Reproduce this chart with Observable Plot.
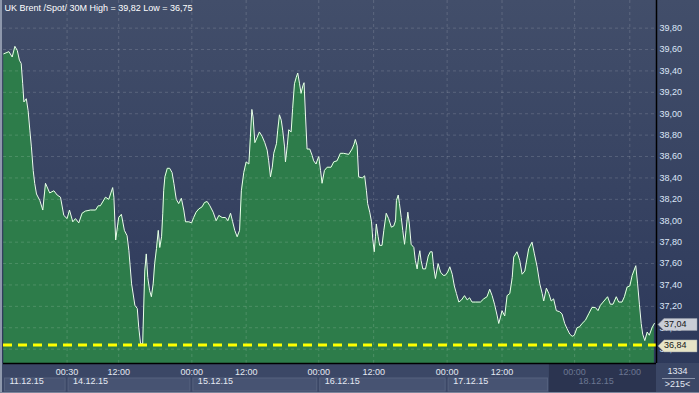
<!DOCTYPE html>
<html><head><meta charset="utf-8">
<script src="https://cdn.jsdelivr.net/npm/d3@7"></script>
<script src="https://cdn.jsdelivr.net/npm/@observablehq/plot@0.6"></script>
<style>
html,body{margin:0;padding:0;background:#2c3757;}
#chart{width:699px;height:393px;position:relative;overflow:hidden;}
</style></head><body><div id="chart"></div>
<script>
const title = "UK Brent /Spot/ 30M High = 39,82 Low = 36,75";
// position along the time axis in 30-minute bars
const bars = [0.1,1.8,2.9,3.8,4.6,5.3,5.9,6.4,6.8,7.6,8.2,8.8,9.3,9.9,10.4,11,12.1,13.1,14,15.4,16.8,17.9,19,20.1,21.2,22,23.1,24,25.1,26.2,27.3,29,30.7,31.6,32.3,34,35.1,36.4,36.8,37.4,38.4,39.3,40.3,41.2,41.8,42.7,43.8,
44.6,45.1,45.7,46.4,46.8,47.1,47.6,48.1,48.7,49.3,49.9,50.4,51,51.6,52.1,52.7,53.1,53.4,53.8,54.6,55.4,56.2,56.8,57.6,58.4,59.3,60.1,60.7,61.8,62.7,63.4,64.2,65.1,66.2,67,67.9,68.8,69.9,70.9,71.8,72.9,74,74.8,75.7,76.4,77.1,77.9,78.7,79.3,80.1,80.9,81.8,82.3,82.8,83.2,83.8,84.6,85.3,86.2,87.1,
87.9,88.4,89,89.6,90.1,91,91.4,92,92.6,93.1,93.7,94,94.6,95.1,95.9,96.4,97,97.6,98.1,98.7,99.2,99.8,100.2,100.7,101.2,102.1,102.9,103.4,104.2,104.8,105.1,105.7,106.2,107,107.9,109.2,110.1,111.2,112.3,113.4,115.1,116.2,116.8,117.3,117.9,118.4,119.6,120.4,121,121.4,122.1,122.7,123.1,123.6,124,124.3,124.9,125.4,126.2,126.8,127.6,128.4,129.3,130.1,130.7,
131,131.6,132,132.6,133.1,133.7,134.2,134.8,135.3,135.9,136.8,137.3,137.9,138.4,138.8,139.2,139.8,140.7,141.6,142.3,142.9,143.4,144,144.9,145.7,146.6,147.3,148.1,148.8,149.6,150.3,151,151.8,152.7,153.7,154.6,155.4,156.2,157.3,159,160.1,161.2,162.1,162.9,163.7,164.6,165.1,165.7,166.2,167.1,167.9,168.8,169.6,170.1,171.2,172.1,172.9,173.8,
175.1,176.2,177,177.9,178.8,179.6,180.1,181,181.8,182.6,183.4,184.3,185.4,186.2,187.1,187.9,188.8,189.6,190.3,191.2,192.1,192.9,194,195.1,196.2,197.3,198.2,199,199.9,201.4,202.3,203.2,204.3,205.1,206.2,207,207.9,208.8,209.6,210.8,211.4,212,212.6,213.1,213.8,214.6,215.3,216.2,217];
const prices = [39.56,39.58,39.53,39.63,39.59,39.50,39.47,39.28,39.11,39.14,39.03,38.84,38.69,38.47,38.35,38.25,38.19,38.10,38.35,38.26,38.28,38.24,38.22,38.05,38.02,38.10,37.99,38.02,37.98,38.07,38.09,38.10,38.10,38.14,38.14,38.22,38.20,38.31,38.22,37.82,38.03,38.06,37.91,37.86,37.72,37.41,37.21,
37.18,37.00,36.85,36.85,37.25,37.53,37.69,37.47,37.35,37.29,37.41,37.60,37.74,37.91,37.75,37.85,38.07,38.28,38.41,38.49,38.49,38.45,38.35,38.20,38.16,38.21,38.10,37.99,37.99,37.98,38.03,38.08,38.11,38.13,38.17,38.18,38.14,38.08,38.00,38.05,38.03,38.03,38.00,38.07,37.99,37.91,37.85,37.91,38.28,38.45,38.55,38.53,38.78,39.04,38.97,38.73,38.78,38.83,38.79,38.73,
38.66,38.56,38.41,38.50,38.63,38.72,38.84,38.99,38.94,38.84,38.69,38.55,38.70,38.85,38.83,39.05,39.28,39.34,39.38,39.28,39.19,39.26,39.29,38.97,38.67,38.67,38.61,38.56,38.53,38.58,38.60,38.47,38.35,38.47,38.50,38.50,38.55,38.56,38.63,38.63,38.62,38.67,38.71,38.76,38.70,38.41,38.40,38.42,38.28,38.16,38.08,37.99,37.83,37.71,37.85,37.97,37.85,37.77,37.77,37.91,38.07,38.02,37.94,37.95,38.00,
38.19,38.24,38.16,38.03,37.91,37.78,37.91,38.08,37.97,37.78,37.75,37.63,37.55,37.66,37.72,37.63,37.55,37.55,37.67,37.71,37.71,37.57,37.46,37.60,37.52,37.49,37.49,37.52,37.57,37.50,37.39,37.32,37.24,37.26,37.30,37.26,37.28,37.24,37.24,37.24,37.27,37.29,37.36,37.30,37.22,37.11,37.04,37.10,37.16,37.11,37.30,37.32,37.47,37.66,37.71,37.63,37.50,37.53,
37.74,37.80,37.69,37.57,37.41,37.32,37.25,37.37,37.32,37.25,37.27,37.16,37.15,37.13,37.04,36.99,36.94,36.92,36.93,37.00,37.01,37.04,37.07,37.13,37.19,37.19,37.16,37.21,37.24,37.29,37.22,37.22,37.29,37.24,37.24,37.29,37.38,37.39,37.49,37.58,37.41,37.22,37.04,36.94,36.88,36.96,36.93,37.00,37.04];
const yTicks = [36.8,37.0,37.2,37.4,37.6,37.8,38.0,38.2,38.4,38.6,38.8,39.0,39.2,39.4,39.6,39.8];
const timeTicks = [21.2,38.4,62.8,80.9,105.1,123.4,147.9,166.2];
const timeLabels = ["00:30","12:00","00:00","12:00","00:00","12:00","00:00","12:00"];
const futureTicks = [190.4,208.8];
const futureLabels = ["00:00","12:00"];
const dateStarts = [0,21.2,62.8,105.1,147.9];
const dateLabels = ["11.12.15","14.12.15","15.12.15","16.12.15","17.12.15"];
const futureDateStart = 190.4, futureDateLabel = "18.12.15";
const futureRegionStart = 182;
const lastPrice = 37.04, lowLine = 36.84;
const counterTop = "1334", counterBottom = ">215<";
const yMin = 36.666, yMax = 40.058, xMax = 217.7;

const data = bars.map((b, i) => ({bar: b, price: prices[i]}));
const fmt = d => d.toFixed(2).replace(".", ",");
const tLab = new Map(timeTicks.map((t, i) => [t, timeLabels[i]]));
const fLab = new Map(futureTicks.map((t, i) => [t, futureLabels[i]]));
const dates = dateLabels.map((label, i) => ({label, start: dateStarts[i]}));
const FONT = "'Liberation Sans', Arial, sans-serif";

const plot = Plot.plot({
  width: 699, height: 393,
  marginLeft: 3, marginRight: 43, marginTop: 0, marginBottom: 30,
  style: {background: "linear-gradient(#424e6a, #2b3759)", fontFamily: FONT, fontSize: "9px", overflow: "visible"},
  x: {domain: [0, xMax]},
  y: {domain: [yMin, yMax]},
  marks: [
    Plot.areaY(data, {x: "bar", y1: yMin, y2: "price", fill: "#2d7c4a"}),
    Plot.gridY(yTicks, {stroke: "#ffffff", strokeOpacity: 0.15, strokeDasharray: "3,3"}),
    Plot.gridX(timeTicks.concat(futureTicks), {stroke: "#ffffff", strokeOpacity: 0.15, strokeDasharray: "3,3"}),
    Plot.lineY(data, {x: "bar", y: "price", stroke: "#eaffea", strokeWidth: 1}),
    Plot.ruleY([lowLine], {stroke: "#ffff00", strokeWidth: 3, strokeDasharray: "9,6"}),
    Plot.ruleY([yMin], {stroke: "#000000", strokeWidth: 1.5}),
    Plot.ruleX([xMax], {stroke: "#000000", strokeWidth: 1.5}),
    Plot.axisY(yTicks, {anchor: "right", label: null, tickSize: 0, tickPadding: 3, tickFormat: fmt, fill: "#dce6f7", fontSize: 9}),
    Plot.axisX(timeTicks, {anchor: "bottom", label: null, tickSize: 0, tickPadding: 5, tickFormat: d => tLab.get(d), fill: "#e4e9f2", fontSize: 9}),
    Plot.axisX(futureTicks, {anchor: "bottom", label: null, tickSize: 0, tickPadding: 5, tickFormat: d => fLab.get(d), fill: "#6c7792", fontSize: 9}),
    Plot.text(dates, {x: "start", text: "label", frameAnchor: "bottom", dy: 20, dx: 6, textAnchor: "start", fill: "#e4e9f2", fontSize: 9}),
    Plot.text([futureDateLabel], {x: futureDateStart, text: d => d, frameAnchor: "bottom", dy: 20, dx: 4, textAnchor: "start", fill: "#6c7792", fontSize: 9}),
    Plot.text([title], {frameAnchor: "top-left", dx: 1, dy: 8, lineAnchor: "middle", textAnchor: "start", fill: "#ffffff", fontSize: 9})
  ]
});

document.getElementById("chart").appendChild(plot);

// decorations drawn with the plot's own scales
const sx = plot.scale("x"), sy = plot.scale("y");
const svg = d3.select(plot);
const X = v => sx.apply(v), Y = v => sy.apply(v);
const bottom = Y(yMin), right = X(xMax);
const bg = svg.insert("g", ":first-child");
bg.append("rect").attr("x", 0).attr("y", bottom).attr("width", 699).attr("height", 393 - bottom).attr("fill", "#3b4766");
const bounds = dateStarts.concat([futureRegionStart]);
for (let i = 0; i < dateStarts.length; i++) {
  const a = X(bounds[i]), b = X(bounds[i + 1]);
  bg.append("rect").attr("x", a + 1.5).attr("y", bottom + 15).attr("width", b - a - 3).attr("height", 13)
    .attr("fill", "#475372").attr("stroke", "#56627f").attr("stroke-width", 1);
}
bg.append("rect").attr("x", X(futureRegionStart)).attr("y", bottom + 1).attr("width", right - X(futureRegionStart)).attr("height", 393 - bottom - 1).attr("fill", "#2b3450");
bg.append("rect").attr("x", right + 1).attr("y", bottom).attr("width", 699 - right).attr("height", 393 - bottom).attr("fill", "#3b4766");

const fg = svg.append("g").attr("font-family", FONT).attr("font-size", 9).attr("text-anchor", "start");
// left and bottom border
fg.append("rect").attr("x", 0).attr("y", 0).attr("width", 2).attr("height", 393).attr("fill", "#8e98ac");
fg.append("rect").attr("x", 0).attr("y", 392).attr("width", 699).attr("height", 1).attr("fill", "#7c869c");
// counter box
fg.append("text").attr("x", (right + 699) / 2).attr("y", bottom + 9).attr("text-anchor", "middle").attr("dominant-baseline", "middle").attr("fill", "#e4e9f2").text(counterTop);
fg.append("line").attr("x1", right + 6).attr("x2", 695).attr("y1", bottom + 15.5).attr("y2", bottom + 15.5).attr("stroke", "#8a94aa");
fg.append("text").attr("x", (right + 699) / 2).attr("y", bottom + 22).attr("text-anchor", "middle").attr("dominant-baseline", "middle").attr("fill", "#e4e9f2").text(counterBottom);
// price tags
function tag(v, fill) {
  const y = Y(v) + 1.5, x0 = right + 2;
  fg.append("path").attr("d", `M${x0},${y}L${x0 + 6},${y - 6}H697V${y + 6}H${x0 + 6}Z`).attr("fill", fill).attr("stroke", "#9aa0ac").attr("stroke-width", 0.5);
  fg.append("text").attr("x", x0 + 6).attr("y", y).attr("text-anchor", "start").attr("dominant-baseline", "middle").attr("fill", "#161616").text(fmt(v));
}
tag(lastPrice, "#c9cdd6");
tag(lowLine, "#e6e4c6");
</script></body></html>
